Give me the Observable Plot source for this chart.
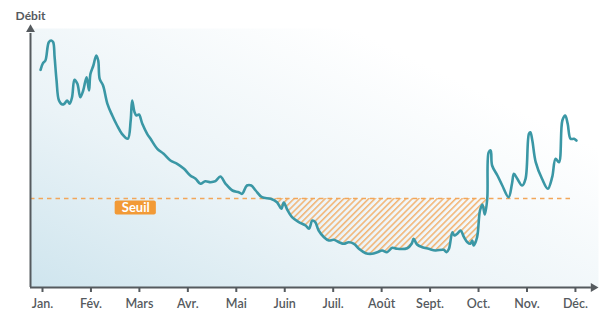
<!DOCTYPE html>
<html>
<head>
<meta charset="utf-8">
<script src="https://cdn.jsdelivr.net/npm/d3@7"></script>
<script src="https://cdn.jsdelivr.net/npm/@observablehq/plot@0.6"></script>
<style>
  html, body { margin: 0; padding: 0; background: #fff; }
</style>
</head>
<body>
<div id="chart"></div>
<script>
// Month position (0 = Jan., 11 = Déc.) of each reading
const positions = [
  -0.04, 0.01, 0.06, 0.13, 0.18, 0.22, 0.25, 0.29, 0.34, 0.41, 0.45, 0.51, 0.56, 0.61, 0.66, 0.72, 0.78, 0.84, 0.91, 0.96,
  0.99, 1.05, 1.11, 1.15, 1.18, 1.25, 1.34, 1.44, 1.54, 1.64, 1.76, 1.82, 1.85, 1.90, 1.94, 1.99, 2.06, 2.16, 2.23, 2.37,
  2.50, 2.64, 2.78, 2.92, 3.05, 3.16, 3.26, 3.36, 3.47, 3.57, 3.67, 3.78, 3.92, 4.05, 4.12, 4.22, 4.31, 4.40, 4.53, 4.71,
  4.84, 4.93, 4.98, 5.05, 5.15, 5.29, 5.43, 5.50, 5.57, 5.63, 5.70, 5.81, 5.91, 6.01, 6.12, 6.22, 6.32, 6.43, 6.53, 6.67,
  6.80, 6.91, 7.01, 7.11, 7.22, 7.32, 7.53, 7.62, 7.66, 7.73, 7.84, 7.97, 8.11, 8.28, 8.34, 8.39, 8.46, 8.50, 8.56, 8.63,
  8.70, 8.77, 8.83, 8.87, 8.90, 8.97, 9.03, 9.08, 9.13, 9.18, 9.21, 9.25, 9.28, 9.39, 9.49, 9.62, 9.69, 9.73, 9.80, 9.90,
  9.97, 10.04, 10.07, 10.11, 10.18, 10.31, 10.43, 10.52, 10.59, 10.66, 10.73, 10.79, 10.84, 10.90, 10.97, 11.02
];
// Débit (arbitrary units)
const debits = [
  217.7, 224.3, 227, 245.3, 247, 245.3, 230.3, 207, 187, 183, 183.7, 187, 183.7, 190.3, 207.7, 203.7, 190.3, 197, 210.3, 197,
  213.7, 222, 232, 227, 208.7, 202, 183.7, 172, 162, 153.7, 148.7, 167, 187, 175.3, 172, 173, 163.7, 153.7, 148.7, 138.7,
  133.7, 127, 123.7, 118.7, 112, 108.7, 103.7, 106.3, 105.3, 106.3, 111, 103.7, 97, 95.3, 93.7, 102, 102, 97, 90.3, 88.7,
  85.3, 78.7, 85, 78, 70.3, 65.3, 62, 58.7, 67, 65.3, 57, 50.3, 47, 47.7, 45.3, 43.7, 45.3, 43.7, 38.7, 34.3,
  33.7, 35.3, 37, 35.3, 39.7, 38.7, 39.3, 43.7, 48.7, 43, 40.3, 38.7, 37, 37.7, 35.3, 38.7, 55.3, 52, 53.7, 57,
  50.3, 45.3, 43.7, 47, 42, 50.3, 77, 83, 73, 89, 135.3, 137, 122, 112, 102, 90.3, 103.7, 113.7, 108.7, 102,
  108.7, 153.7, 155.3, 147, 125.3, 108.7, 98.7, 110.3, 128.7, 125.3, 167, 172, 163.7, 148.7, 148.7, 147
];
const monthLabels = ["Jan.", "Fév.", "Mars", "Avr.", "Mai", "Juin", "Juil.", "Août", "Sept.", "Oct.", "Nov.", "Déc."];
const threshold = 89;
const thresholdLabel = "Seuil";
const yLabel = "Débit";

const data = positions.map((m, i) => ({m, v: debits[i]}));

const axisColor = "#555a5e";
const lineColor = "#3a97a5";
const orange = "#f29a36";
const font = "Lato, 'Open Sans', sans-serif";

const xMin = -0.2477, xMax = 11.476;

const svg = Plot.plot({
  width: 608,
  height: 315,
  marginLeft: 30,
  marginRight: 10,
  marginTop: 28,
  marginBottom: 28,
  x: {domain: [xMin, xMax], axis: null},
  y: {domain: [0, 259], axis: null},
  style: {background: "white", fontFamily: font, overflow: "visible"},
  marks: [
    Plot.frame({fill: "url(#bgGrad)", stroke: "none"}),
    // hatched deficit area
    Plot.areaY(data, {
      x: "m",
      y1: threshold,
      y2: d => Math.min(d.v, threshold),
      fill: "url(#hatch)",
      curve: "catmull-rom"
    }),
    // threshold
    Plot.ruleY([threshold], {x1: xMin, x2: 10.96, stroke: "#f2a65a", strokeWidth: 1.3, strokeDasharray: "4.5,4"}),
    Plot.rect([thresholdLabel], {x1: 1.50, x2: 2.35, y1: 72.5, y2: 86.5, fill: orange, rx: 2}),
    Plot.text([thresholdLabel], {x: 1.925, y: 79.5, text: d => d, fill: "white", fontSize: 13, fontWeight: "bold"}),
    // flow line
    Plot.line(data, {x: "m", y: "v", stroke: lineColor, strokeWidth: 2.6, curve: "catmull-rom", strokeLinejoin: "round", strokeLinecap: "round"}),
    // axes
    Plot.ruleY([0], {x1: xMin, x2: 11.33, stroke: axisColor, strokeWidth: 2}),
    Plot.ruleX([xMin], {y1: 0, y2: 254, stroke: axisColor, strokeWidth: 2}),
    Plot.dot([0], {x: 11.37, y: 0, symbol: "triangle", r: 3.3, fill: axisColor, stroke: "none", rotate: 90}),
    Plot.dot([0], {x: xMin, y: 258, symbol: "triangle", r: 3.3, fill: axisColor, stroke: "none"}),
    Plot.axisX({
      ticks: d3.range(monthLabels.length),
      tickFormat: i => monthLabels[i],
      tickSize: 5,
      tickPadding: 7,
      fontSize: 12.5,
      fontWeight: 600,
      stroke: axisColor,
      fill: axisColor,
      strokeWidth: 2,
      label: null
    }),
    Plot.text([yLabel], {frameAnchor: "top-left", dx: 0, dy: -17, text: d => d, textAnchor: "middle", fontSize: 12, fontWeight: "bold", fill: axisColor})
  ]
});

const defs = d3.select(svg).insert("defs", ":first-child");
const grad = defs.append("linearGradient").attr("id", "bgGrad")
  .attr("x1", 0).attr("y1", 1).attr("x2", 0.8).attr("y2", 0.25);
grad.append("stop").attr("offset", "0%").attr("stop-color", "#cfe5ee");
grad.append("stop").attr("offset", "45%").attr("stop-color", "#eaf3f7");
grad.append("stop").attr("offset", "100%").attr("stop-color", "#ffffff");
const pat = defs.append("pattern").attr("id", "hatch")
  .attr("patternUnits", "userSpaceOnUse")
  .attr("width", 4.4).attr("height", 4.4)
  .attr("patternTransform", "rotate(45)");
pat.append("line").attr("x1", 0.8).attr("y1", 0).attr("x2", 0.8).attr("y2", 4.4)
  .attr("stroke", "#f3a24e").attr("stroke-width", 1.2);

document.getElementById("chart").append(svg);
</script>
</body>
</html>
